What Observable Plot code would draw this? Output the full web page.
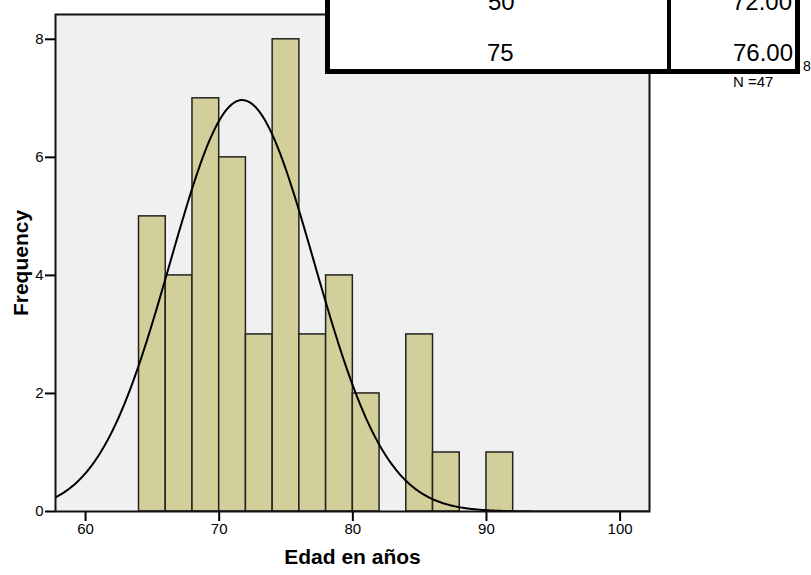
<!DOCTYPE html>
<html><head><meta charset="utf-8">
<script src="https://cdn.jsdelivr.net/npm/d3@7"></script>
<script src="https://cdn.jsdelivr.net/npm/@observablehq/plot@0.6"></script>
<style>
body{margin:0;background:#fff;font-family:"Liberation Sans",Arial,sans-serif;}
#wrap{position:relative;width:811px;height:575px;overflow:hidden;}
#wrap svg [aria-label^="x-axis"] line, #wrap svg [aria-label^="y-axis"] line,
#wrap svg [aria-label^="x-axis"] path, #wrap svg [aria-label^="y-axis"] path{stroke-width:2px;}
#wrap svg [aria-label^="x-axis"], #wrap svg [aria-label^="y-axis"],
#wrap svg [aria-label^="x-axis"] text, #wrap svg [aria-label^="y-axis"] text{font-size:15px;}
.abs{position:absolute;white-space:nowrap;color:#000;}
.cell{font-size:24px;line-height:24px;}
</style></head><body><div id="wrap"></div>
<script>
const binStarts = [64,66,68,70,72,74,76,78,80,82,84,86,88,90];
const binWidth = 2;
const counts = [5,4,7,6,3,8,3,4,2,0,3,1,0,1];
const xTicks = [60,70,80,90,100];
const yTicks = [0,2,4,6,8];
const fitMean = 71.72;
const fitSD = 5.38;
const nCases = 47;
const pctLabels = ["50","75"];
const pctValues = ["72.00","76.00"];
const xDomain = [57.75, 102.2];
const yDomain = [0, 8.42];

const bins = binStarts.map((s,i)=>({x1:s, x2:s+binWidth, count:counts[i]})).filter(d=>d.count>0);
const k = nCases*binWidth/(fitSD*Math.sqrt(2*Math.PI));
const curve = d3.range(xDomain[0], xDomain[1]+0.05, 0.1).map(x=>({x, y:k*Math.exp(-((x-fitMean)**2)/(2*fitSD*fitSD))}));

const plot = Plot.plot({
  width: 811, height: 575,
  marginLeft: 55, marginRight: 162, marginTop: 14, marginBottom: 64,
  style: {fontSize: "15px", fontFamily: '"Liberation Sans", Arial, sans-serif', color: "#000", background: "#fff"},
  x: {domain: xDomain, ticks: xTicks, tickSize: 10, tickPadding: 2, label: null, tickFormat: d3.format("d")},
  y: {domain: yDomain, ticks: yTicks, tickSize: 10, tickPadding: 2, label: null, tickFormat: d3.format("d")},
  marks: [
    Plot.frame({fill: "#f0f0f0"}),
    Plot.rectY(bins, {x1: "x1", x2: "x2", y: "count", fill: "#d3cf9a", stroke: "#222", strokeWidth: 1.5}),
    Plot.line(curve, {x: "x", y: "y", stroke: "#000", strokeWidth: 2, clip: true}),
    Plot.frame({stroke: "#111", strokeWidth: 2}),
    Plot.text(["Edad en años"], {frameAnchor: "bottom", textAnchor: "middle", dy: 52, fontWeight: "bold", fontSize: 21, fill: "#000"}),
    Plot.text(["Frequency"], {frameAnchor: "left", textAnchor: "middle", dx: -34, rotate: -90, fontWeight: "bold", fontSize: 21, fill: "#000"})
  ]
});
const wrap = document.getElementById("wrap");
wrap.appendChild(plot);

function add(html, style, cls){
  const d = document.createElement("div");
  d.className = "abs " + (cls||"");
  d.style.cssText = style;
  d.textContent = html;
  wrap.appendChild(d);
  return d;
}
// overlay table (its top row is cut off by the page edge, as in the reference)
add("", "left:325px;top:-10px;width:465px;height:74px;border:5px solid #000;background:#fff;");
add("", "left:667px;top:0px;width:4px;height:69px;background:#000;");
add(pctLabels[0], "left:488px;top:-10px;", "cell");
add(pctLabels[1], "left:487px;top:41px;", "cell");
add(pctValues[0], "right:19px;top:-10px;", "cell");
add(pctValues[1], "right:18px;top:41px;", "cell");
add("N =" + nCases, "left:733px;top:74px;font-size:15px;line-height:15px;");
add("8", "left:803px;top:59px;font-size:14px;line-height:14px;");
</script></body></html>
